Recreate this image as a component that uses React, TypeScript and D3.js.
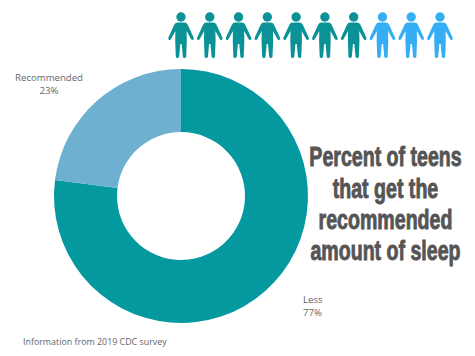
import React from "react";
import * as d3 from "d3";

const W = 475, H = 356;
const sliceLabels = ["Less", "Recommended"];
const sliceValues = [77, 23];
const sliceColors = ["#04989f", "#6db0cf"];
const peopleKinds = [0, 0, 0, 0, 0, 0, 0, 1, 1, 1];
const peopleColors = ["#0a9297", "#36aef5"];
const titleLines = ["Percent of teens", "that get the", "recommended", "amount of sleep"];
const titleBaselines = [166, 198, 229, 260];
const sourceNote = "Information from 2019 CDC survey";

const personPath =
  "M-3.5,-15.5 L3.5,-15.5 Q5.6,-15.5 6.6,-13.5 L12.6,-0.5 Q13.2,1.3 12,1.9 Q10.8,2.4 10,1 L5.6,-7 L5.8,3 L5.2,18.5 Q5,20 3.6,20 Q2,20 1.8,18.5 L0.7,6 L-0.7,6 L-1.8,18.5 Q-2,20 -3.6,20 Q-5,20 -5.2,18.5 L-5.8,3 L-5.6,-7 L-10,1 Q-10.8,2.4 -12,1.9 Q-13.2,1.3 -12.6,-0.5 L-6.6,-13.5 Q-5.6,-15.5 -3.5,-15.5 Z";

export default function App() {
  const cx = 181, cy = 196, outer = 127, inner = 64;
  const pie = d3.pie<number>().sort(null)(sliceValues);
  const arc = d3.arc<d3.PieArcDatum<number>>().innerRadius(inner).outerRadius(outer);
  const px = d3.scaleLinear().domain([0, 9]).range([181, 440]);
  const font = "'Open Sans', sans-serif";
  return (
    <svg width={W} height={H} style={{ position: "absolute", left: 0, top: 0, background: "#fff" }}>
      <g transform={`translate(${cx},${cy})`}>
        {pie.map((d, i) => (
          <path key={sliceLabels[i]} d={arc(d) as string} fill={sliceColors[i]} />
        ))}
      </g>
      {peopleKinds.map((k, i) => (
        <g key={i} transform={`translate(${px(i)},38)`} fill={peopleColors[k]}>
          <circle cx={0} cy={-21} r={4.7} />
          <path d={personPath} />
        </g>
      ))}
      <g fontFamily={font} fontSize={9.6} fill="#666" textAnchor="middle">
        <text x={49} y={80.5}>{sliceLabels[1]}</text>
        <text x={49} y={94}>{sliceValues[1]}%</text>
      </g>
      <g fontFamily={font} fontSize={9.6} fill="#666">
        <text x={303} y={303}>{sliceLabels[0]}</text>
        <text x={303} y={316}>{sliceValues[0]}%</text>
      </g>
      <text x={23} y={345} fontFamily={font} fontSize={8.9} fill="#666">{sourceNote}</text>
      <g fontFamily="'Liberation Sans', sans-serif" fontWeight={700} fontSize={27} fill="#555" stroke="#555" strokeWidth={0.9}>
        {titleLines.map((t, i) => (
          <text key={t} transform={`translate(385.5,${titleBaselines[i]}) scale(0.725,1)`} textAnchor="middle">{t}</text>
        ))}
      </g>
    </svg>
  );
}
